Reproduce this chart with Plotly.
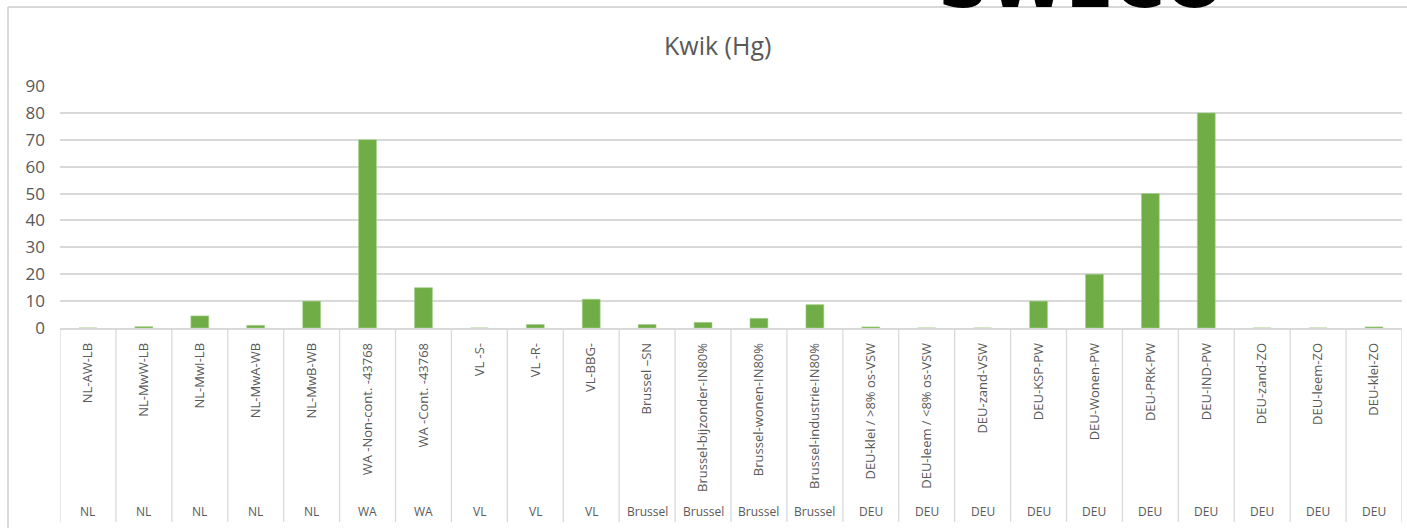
import plotly.graph_objects as go

categories = ["NL-AW-LB", "NL-MwW-LB", "NL-MwI-LB", "NL-MwA-WB", "NL-MwB-WB",
              "WA -Non-cont. -43768", "WA -Cont. -43768",
              "VL -S-", "VL -R-", "VL-BBG-",
              "Brussel –SN", "Brussel-bijzonder-IN80%", "Brussel-wonen-IN80%", "Brussel-industrie-IN80%",
              "DEU-klei / >8% os-VSW", "DEU-leem / <8% os-VSW", "DEU-zand-VSW", "DEU-KSP-PW",
              "DEU-Wonen-PW", "DEU-PRK-PW", "DEU-IND-PW", "DEU-zand-ZO", "DEU-leem-ZO", "DEU-klei-ZO"]
groups = ["NL", "NL", "NL", "NL", "NL", "WA", "WA", "VL", "VL", "VL",
          "Brussel", "Brussel", "Brussel", "Brussel",
          "DEU", "DEU", "DEU", "DEU", "DEU", "DEU", "DEU", "DEU", "DEU", "DEU"]
values = [0, 0.5, 4.5, 1, 10, 70, 15, 0, 1.3, 10.7, 1.3, 2.1, 3.6, 8.7,
          0.4, 0, 0, 10, 20, 50, 80, 0, 0, 0.4]
y_ticks = [0, 10, 20, 30, 40, 50, 60, 70, 80, 90]
title_text = "Kwik (Hg)"

W, H = 1407, 528
L, R, T, B = 60, 1402, 86, 328
pw, ph = R - L, B - T

def px(x):
    return (x - L) / pw

def py(y):
    return (B - y) / ph

GRAY = "#595959"
GRID = "#d9d9d9"
FONT = "Open Sans"

idx = list(range(len(categories)))

fig = go.Figure()
fig.add_trace(go.Bar(
    x=idx, y=values,
    marker=dict(color="#70AD47", line=dict(color="#A9D18E", width=0.6)),
    width=0.32,
    hoverinfo="y",
))

shapes = []
# category divider lines
for i in range(len(categories) + 1):
    shapes.append(dict(type="line", xref="x", yref="paper",
                       x0=i - 0.5, x1=i - 0.5, y0=0, y1=py(522),
                       line=dict(color=GRID, width=1.3)))
# chart frame
shapes.append(dict(type="line", xref="paper", yref="paper",
                   x0=px(8), x1=px(W), y0=py(7), y1=py(7),
                   line=dict(color=GRID, width=2)))
shapes.append(dict(type="line", xref="paper", yref="paper",
                   x0=px(8), x1=px(8), y0=py(7), y1=py(H + 2),
                   line=dict(color=GRID, width=2)))

annotations = []
for i, g in enumerate(groups):
    annotations.append(dict(x=i, y=py(511), xref="x", yref="paper",
                            text=g, showarrow=False, yanchor="middle",
                            font=dict(family=FONT, size=12, color=GRAY)))
annotations.append(dict(x=px(717), y=py(45), xref="paper", yref="paper",
                        text=title_text, showarrow=False, yanchor="middle",
                        font=dict(family=FONT, size=25, color=GRAY)))
# partially visible background logo text at the very top (cut off, as in the reference)
annotations.append(dict(x=px(937), y=py(25), xref="paper", yref="paper",
                        text="<b>SWECO</b>", showarrow=False,
                        xanchor="left", yanchor="bottom",
                        borderpad=0,
                        font=dict(family="DejaVu Sans", size=70, color="#000000")))

fig.update_layout(
    width=W, height=H,
    margin=dict(l=L, r=W - R, t=T, b=H - B, pad=0),
    paper_bgcolor="white", plot_bgcolor="white",
    showlegend=False,
    shapes=shapes,
    annotations=annotations,
    xaxis=dict(
        range=[-0.5, len(categories) - 0.5],
        tickmode="array", tickvals=idx, ticktext=categories,
        tickangle=-90, showgrid=False, zeroline=False,
        showline=True, linecolor=GRID, linewidth=1.5,
        ticks="", ticklabelstandoff=8,
        tickfont=dict(family=FONT, size=13, color=GRAY),
    ),
    yaxis=dict(
        range=[0, 90], tickmode="array", tickvals=y_ticks,
        showgrid=True, gridcolor=GRID, gridwidth=1.5,
        zeroline=False, showline=False, ticks="",
        ticklabelstandoff=14,
        tickfont=dict(family=FONT, size=17, color=GRAY),
    ),
    bargap=0.68,
)

fig.write_html("out.html", config={"displayModeBar": False},
               post_script="document.body.style.margin='0';document.body.style.overflow='hidden';")
